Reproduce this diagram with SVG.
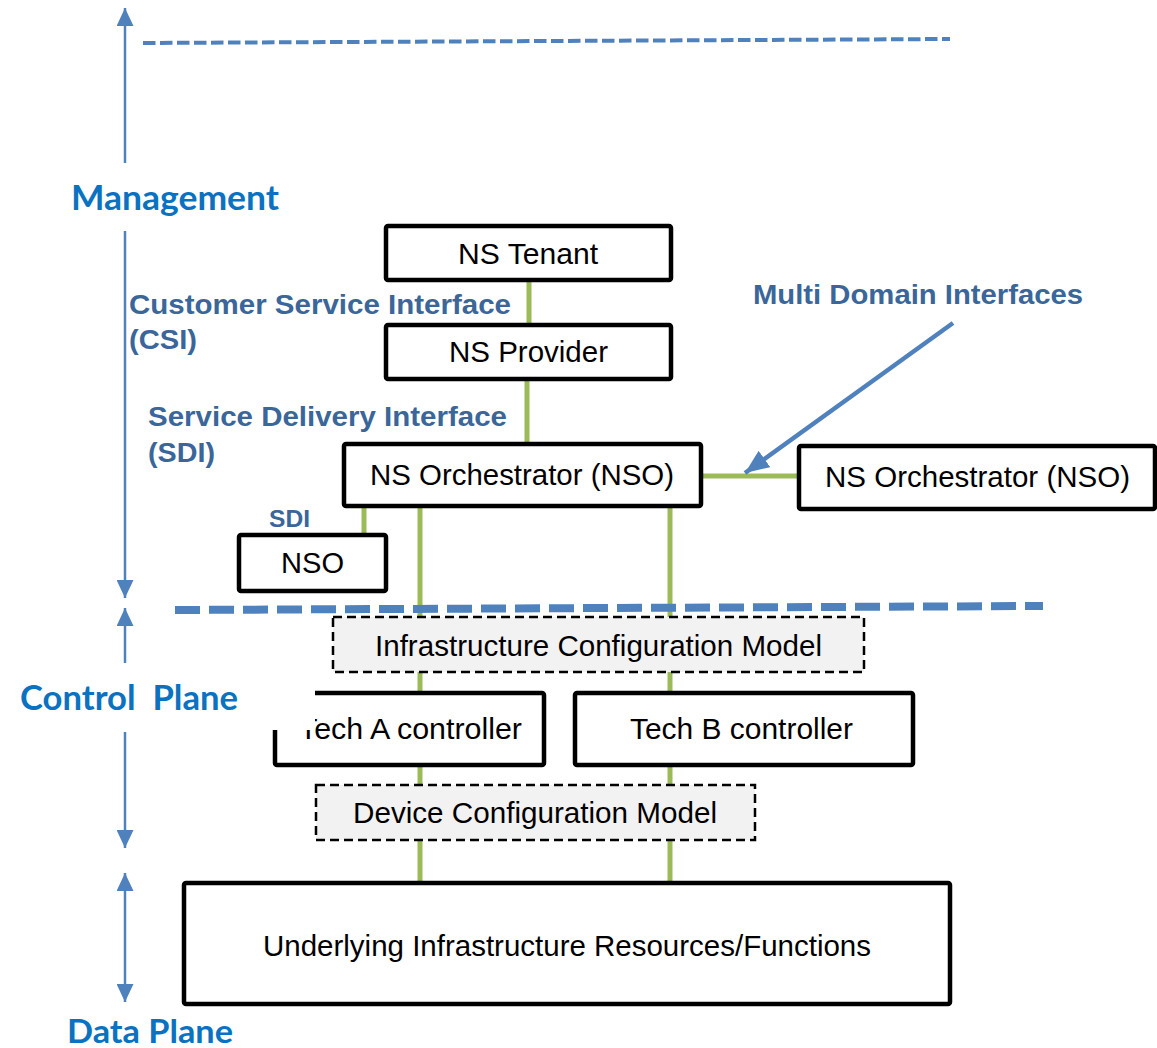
<svg xmlns="http://www.w3.org/2000/svg" width="1157" height="1048" viewBox="0 0 1157 1048">
<defs>
<style>
.box{fill:#fff;stroke:#000;stroke-width:4.5}
.dbox{fill:#f2f2f2;stroke:#000;stroke-width:2.5;stroke-dasharray:9 5}
.t{font-family:"Liberation Sans",Arial,sans-serif;font-size:29.5px;fill:#000}
.lab{font-family:"Liberation Sans",Arial,sans-serif;font-weight:bold;font-size:27px;fill:#3a6699}
.layer{font-family:Lato,"Open Sans",sans-serif;font-weight:bold;font-size:35px;fill:#0a72c0}
.green{stroke:#9bbb59;stroke-width:5;fill:none}
.axis{stroke:#4f81bd;stroke-width:2.5;fill:none}
</style>
<marker id="ah" markerUnits="userSpaceOnUse" markerWidth="18" markerHeight="17" viewBox="0 0 18 17" refX="18" refY="8.5" orient="auto-start-reverse">
<path d="M0,0 L18,8.5 L0,17 z" fill="#4f81bd"/>
</marker>
<marker id="ahBig" markerUnits="userSpaceOnUse" markerWidth="24" markerHeight="20" viewBox="0 0 24 20" refX="24" refY="10" orient="auto">
<path d="M0,0 L24,10 L0,20 z" fill="#4f81bd"/>
</marker>
</defs>
<rect width="1157" height="1048" fill="#fff"/>

<g id="dividers">
<line x1="143" y1="43" x2="950" y2="39" stroke="#4f81bd" stroke-width="4" stroke-dasharray="12.5 4.5"/>
</g>

<g id="connectors">
<line class="green" x1="529" y1="282" x2="529" y2="323"/>
<line class="green" x1="527" y1="381" x2="527" y2="442"/>
<line class="green" x1="364" y1="508" x2="364" y2="533"/>
<line class="green" x1="420" y1="508" x2="420" y2="881"/>
<line class="green" x1="670" y1="508" x2="670" y2="881"/>
<line class="green" x1="703" y1="476" x2="797" y2="476"/>
<line x1="953" y1="323" x2="745" y2="473" stroke="#4f81bd" stroke-width="4.5" marker-end="url(#ahBig)"/>
</g>

<g id="axis">
<path class="axis" d="M125,163 L125,8" marker-end="url(#ah)"/>
<path class="axis" d="M125,231 L125,598" marker-end="url(#ah)"/>
<path class="axis" d="M125,663 L125,608" marker-end="url(#ah)"/>
<path class="axis" d="M125,732 L125,848" marker-end="url(#ah)"/>
<path class="axis" d="M125,873 L125,1002" marker-start="url(#ah)" marker-end="url(#ah)"/>
<text class="layer" x="71" y="210" textLength="208" lengthAdjust="spacingAndGlyphs">Management</text>
<text class="layer" x="20" y="710" textLength="218" lengthAdjust="spacingAndGlyphs" xml:space="preserve">Control  Plane</text>
<text class="layer" x="67" y="1043" style="font-size:33px" textLength="166" lengthAdjust="spacingAndGlyphs">Data Plane</text>
</g>

<g id="labels">
<text class="lab" x="129" y="314" textLength="382" lengthAdjust="spacingAndGlyphs">Customer Service Interface</text>
<text class="lab" x="129" y="349" textLength="68" lengthAdjust="spacingAndGlyphs">(CSI)</text>
<text class="lab" x="148" y="426" textLength="359" lengthAdjust="spacingAndGlyphs">Service Delivery Interface</text>
<text class="lab" x="148" y="462" textLength="67" lengthAdjust="spacingAndGlyphs">(SDI)</text>
<text class="lab" x="269" y="527" style="font-size:23px" textLength="41" lengthAdjust="spacingAndGlyphs">SDI</text>
<text class="lab" x="753" y="304" textLength="330" lengthAdjust="spacingAndGlyphs">Multi Domain Interfaces</text>
</g>

<g id="ns-tenant">
<rect class="box" x="386" y="226" width="285" height="54" rx="2"/>
<text class="t" x="458" y="264" textLength="140" lengthAdjust="spacingAndGlyphs">NS Tenant</text>
</g>
<g id="ns-provider">
<rect class="box" x="386" y="325" width="285" height="54" rx="2"/>
<text class="t" x="449" y="362" textLength="159" lengthAdjust="spacingAndGlyphs">NS Provider</text>
</g>
<g id="nso-main">
<rect class="box" x="344" y="444" width="357" height="62" rx="2"/>
<text class="t" x="370" y="485" textLength="304" lengthAdjust="spacingAndGlyphs">NS Orchestrator (NSO)</text>
</g>
<g id="nso-right">
<rect class="box" x="799" y="446" width="356" height="63" rx="2"/>
<text class="t" x="825" y="487" textLength="305" lengthAdjust="spacingAndGlyphs">NS Orchestrator (NSO)</text>
</g>
<g id="nso-small">
<rect class="box" x="239" y="535" width="147" height="56" rx="2"/>
<text class="t" x="281" y="573" textLength="63" lengthAdjust="spacingAndGlyphs">NSO</text>
</g>

<g id="dividers2">
<line x1="175" y1="610" x2="1043" y2="606" stroke="#4f81bd" stroke-width="8" stroke-dasharray="25 9"/>
</g>

<g id="infra-config-model">
<rect class="dbox" x="333" y="617" width="531" height="55"/>
<text class="t" x="375" y="656" textLength="447" lengthAdjust="spacingAndGlyphs">Infrastructure Configuration Model</text>
</g>
<g id="tech-a">
<rect class="box" x="275" y="693" width="269" height="72" rx="2"/>
<text class="t" x="299" y="739" textLength="223" lengthAdjust="spacingAndGlyphs">Tech A controller</text>
<rect x="262" y="684" width="53" height="46" fill="#fff"/>
</g>
<g id="tech-b">
<rect class="box" x="575" y="693" width="338" height="72" rx="2"/>
<text class="t" x="630" y="739" textLength="223" lengthAdjust="spacingAndGlyphs">Tech B controller</text>
</g>
<g id="device-config-model">
<rect class="dbox" x="316" y="785" width="439" height="55"/>
<text class="t" x="353" y="823" textLength="364" lengthAdjust="spacingAndGlyphs">Device Configuration Model</text>
</g>
<g id="underlying">
<rect class="box" x="184" y="883" width="766" height="121" rx="2"/>
<text class="t" x="263" y="956" textLength="608" lengthAdjust="spacingAndGlyphs">Underlying Infrastructure Resources/Functions</text>
</g>
</svg>
